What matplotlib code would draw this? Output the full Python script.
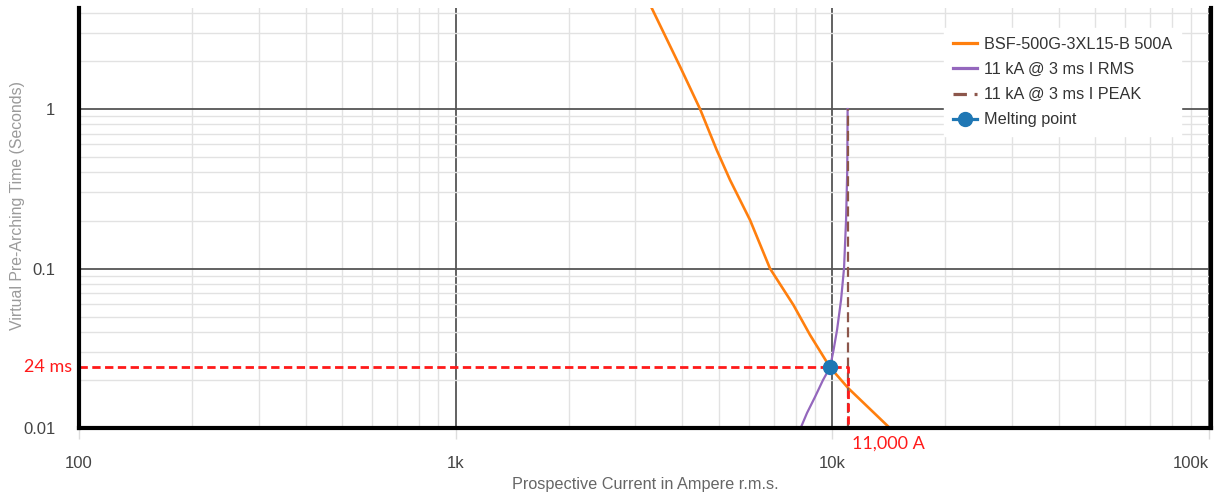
import matplotlib

matplotlib.use("Agg")
import matplotlib.pyplot as plt
import matplotlib.transforms as mtransforms
from matplotlib.ticker import FixedLocator, FixedFormatter, LogLocator, NullFormatter

plt.rcParams["font.family"] = ["Liberation Sans", "DejaVu Sans"]

# --- data ---
fuse_current = [3319, 3950, 4461, 4940, 5359, 6056, 6843, 7895, 8742, 9880, 11049, 14110]
fuse_time = [4.30, 1.84, 1.0, 0.553, 0.359, 0.2014, 0.1, 0.0591, 0.0383, 0.024, 0.01774, 0.0102]

rms_current = [8275, 8580, 9010, 9464, 9880, 10092, 10311, 10566, 10762, 10895, 10975, 11000]
rms_time = [0.01015, 0.01242, 0.01565, 0.020, 0.024, 0.0308, 0.0412, 0.0635, 0.1007, 0.2014, 0.4146, 1.0]

peak_current = [11000, 11000]
peak_time = [0.01, 1.0]

melt_current = [9880]
melt_time = [0.024]

guide_current = [100, 11000, 11000]
guide_time = [0.024, 0.024, 0.01]

x_ticks = [100, 1000, 10000, 100000]
x_tick_labels = ["100", "1k", "10k", "100k"]
y_ticks = [0.01, 0.1, 1]
y_tick_labels = ["0.01", "0.1", "1"]

fig = plt.figure(figsize=(12.15, 4.95), dpi=100)
ax = fig.add_axes([79 / 1215, 67 / 495, 1132 / 1215, 420 / 495])
ax.set_xscale("log")
ax.set_yscale("log")
ax.set_xlim(100, 1.015e5)
ax.set_ylim(0.01, 4.3)

ax.plot(fuse_current, fuse_time, color="#ff7f0e", lw=1.9, label="BSF-500G-3XL15-B 500A", zorder=3)
ax.plot(rms_current, rms_time, color="#9467bd", lw=1.6, label="11 kA @ 3 ms I RMS", zorder=3)
ax.plot(peak_current, peak_time, color="#8c564b", lw=1.6, linestyle=(0, (4.5, 2.3)),
        label="11 kA @ 3 ms I PEAK", zorder=3)
ax.plot(guide_current, guide_time, color="#ff1a1a", lw=2.0, linestyle=(0, (3, 1.6)),
        zorder=4, clip_on=False)
ax.plot(melt_current, melt_time, color="#1f77b4", marker="o", ms=10, lw=1.6,
        label="Melting point", zorder=5)

# grid
ax.xaxis.set_major_locator(FixedLocator(x_ticks))
ax.xaxis.set_major_formatter(FixedFormatter(x_tick_labels))
ax.yaxis.set_major_locator(FixedLocator(y_ticks))
ax.yaxis.set_major_formatter(FixedFormatter(y_tick_labels))
ax.xaxis.set_minor_locator(LogLocator(base=10, subs=range(2, 10)))
ax.yaxis.set_minor_locator(LogLocator(base=10, subs=range(2, 10)))
ax.xaxis.set_minor_formatter(NullFormatter())
ax.yaxis.set_minor_formatter(NullFormatter())
ax.grid(which="major", color="#555555", lw=1.3, zorder=1)
ax.grid(which="minor", color="#e2e2e2", lw=1.0, zorder=0)
ax.set_axisbelow(True)

ax.tick_params(axis="x", which="major", length=8, width=1, color="#dddddd",
               labelsize=12, labelcolor="#444444", pad=12)
ax.tick_params(axis="y", which="major", length=0, labelsize=12, labelcolor="#444444", pad=17)
ax.tick_params(which="minor", length=0)
# last x label sits inside the figure, right-aligned to its gridline
ax.xaxis.get_major_ticks()[-1].label1.set_horizontalalignment("right")

for side in ("left", "bottom", "right"):
    ax.spines[side].set_linewidth(3)
    ax.spines[side].set_color("black")
    ax.spines[side].set_zorder(6)
ax.spines["top"].set_visible(False)

ax.set_xlabel("Prospective Current in Ampere r.m.s.", fontsize=11.7, color="#666666")
ax.xaxis.set_label_coords(0.5, (428 - 485) / 420)
ax.xaxis.label.set_va("center")
ax.set_ylabel("Virtual Pre-Arching Time (Seconds)", fontsize=11.4, color="#9a9a9a")
ax.yaxis.set_label_coords((18 - 79) / 1132, (428 - 205) / 420)
ax.yaxis.label.set_va("center")

# red annotations
trans_y = mtransforms.blended_transform_factory(ax.transAxes, ax.transData)
ax.text(-0.0062, 0.024, "24 ms", transform=trans_y, ha="right", va="center",
        fontsize=13, color="#ff1a1a", family=["Lato", "DejaVu Sans"])
trans_x = mtransforms.blended_transform_factory(ax.transData, ax.transAxes)
ax.annotate("11,000 A", xy=(11000, 0), xycoords=trans_x, xytext=(3, -11),
            textcoords="offset points", ha="left", va="center",
            fontsize=13, color="#ff1a1a", family=["Lato", "DejaVu Sans"])

leg = ax.legend(loc="upper left", bbox_to_anchor=((936 - 79) / 1132, (428 - 20) / 420),
                fontsize=11.7, frameon=True, framealpha=1, edgecolor="white",
                fancybox=False, handlelength=1.45, handletextpad=0.45, labelspacing=0.62,
                borderpad=0.55)
for t in leg.get_texts():
    t.set_color("#333333")
for ln in leg.get_lines():
    ln.set_linewidth(2.3)
leg.get_lines()[2].set_linestyle((0, (4.2, 2.4, 1.0, 2.4)))
leg.set_zorder(7)

fig.savefig("out.png", dpi=100)
